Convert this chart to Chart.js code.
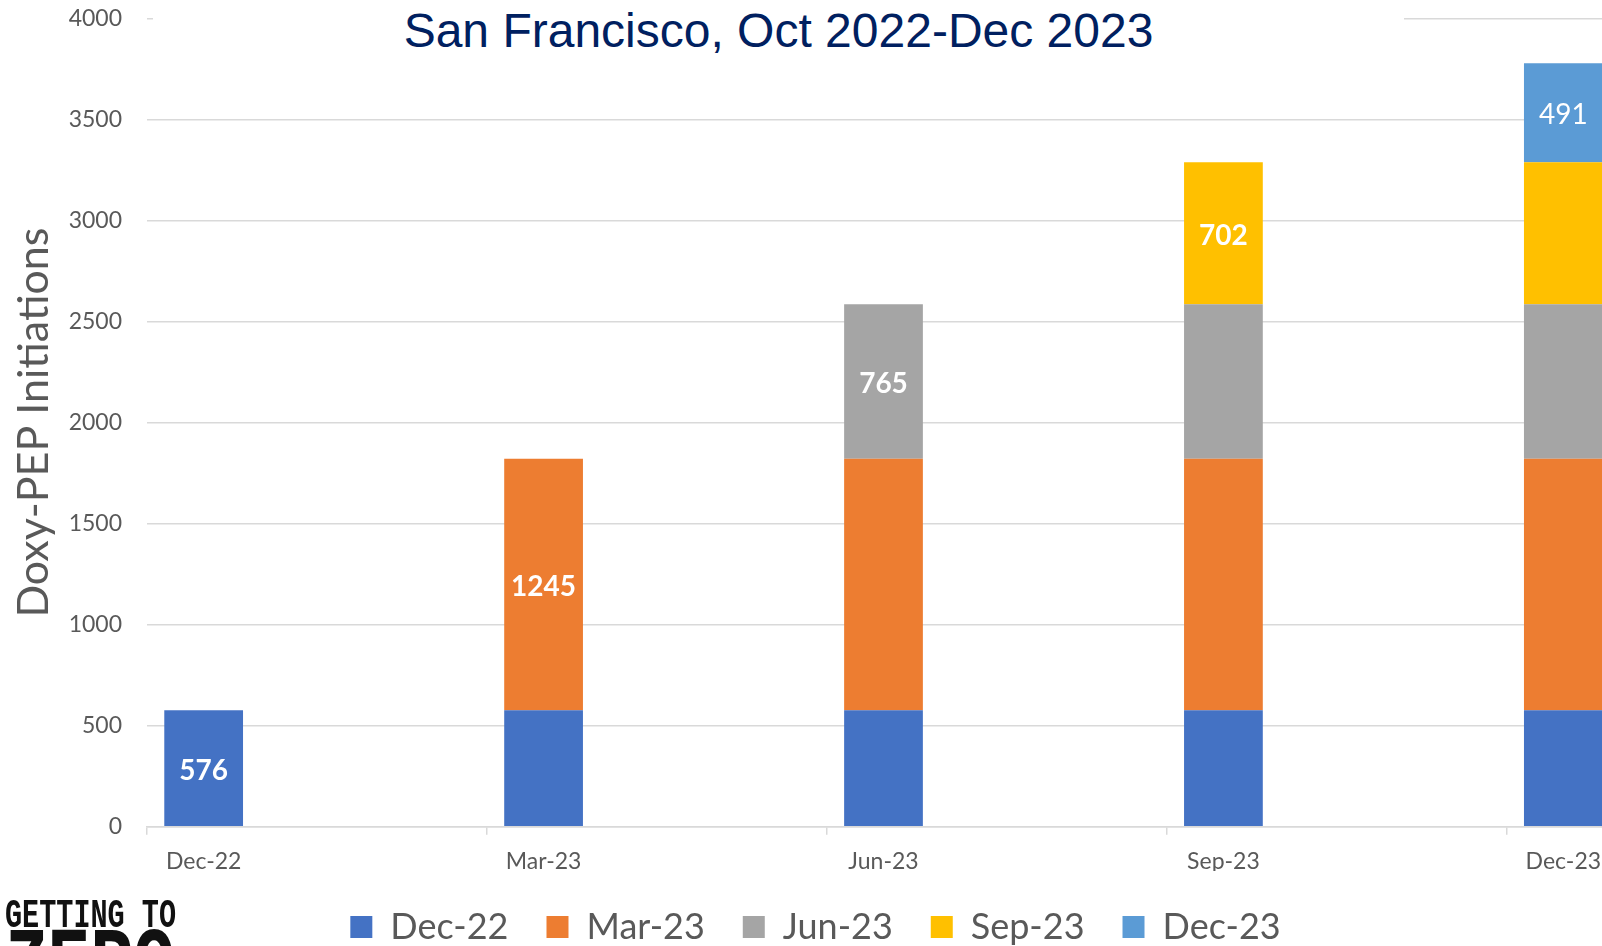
<!DOCTYPE html>
<html><head><meta charset="utf-8">
<script src="https://cdn.jsdelivr.net/npm/chart.js@4.4.1/dist/chart.umd.min.js"></script>
<style>
html,body{margin:0;padding:0;background:#fff;overflow:hidden;width:1602px;height:946px;position:relative;}
#wrap{position:absolute;left:0;top:0;width:1631px;height:955px;}
#title{position:absolute;left:153px;top:0;width:1251px;height:62px;background:#fff;text-align:center;font-family:"Liberation Sans",Arial,sans-serif;font-size:48px;line-height:48px;color:#002060;padding-top:7px;box-sizing:border-box;white-space:nowrap;}
.logo{position:absolute;left:5px;font-family:"Liberation Mono",monospace;font-weight:bold;color:#111;line-height:1;transform-origin:0 0;white-space:nowrap;}
#logo1{top:898px;font-size:28.5px;transform:scaleY(1.4);}
#logo2{top:920px;font-size:71px;transform:scaleY(1.4);}
</style></head><body>
<div id="wrap"><canvas id="c" width="1631" height="955"></canvas></div>
<div id="title">San Francisco, Oct 2022-Dec 2023</div>
<div class="logo" id="logo1">GETTING TO</div>
<div class="logo" id="logo2">ZERO</div>
<script>
// Monthly date axis (Excel-style), quarterly cohorts
const months = ['Dec-22','Jan-23','Feb-23','Mar-23','Apr-23','May-23','Jun-23','Jul-23','Aug-23','Sep-23','Oct-23','Nov-23','Dec-23'];
const quarters = ['Dec-22','Mar-23','Jun-23','Sep-23','Dec-23'];
const newInitiations = [576, 1245, 765, 702, 491];
const seriesColors = ['#4472C4','#ED7D31','#A5A5A5','#FFC000','#5B9BD5'];
const yTickMin = 0, yTickMax = 4000, yTickStep = 500;

const datasets = quarters.map((name, k) => ({
  label: name,
  data: months.map(m => {
    const q = quarters.indexOf(m);
    return (q >= k) ? newInitiations[k] : null;
  }),
  backgroundColor: seriesColors[k],
  borderWidth: 0,
  labelAt: months.indexOf(quarters[k]),
  labelWeight: k === 4 ? 'normal' : 'bold',
  categoryPercentage: 1.0,
  barPercentage: 0.695
}));

const segmentLabels = {
  id: 'segmentLabels',
  afterDatasetsDraw(chart) {
    const ctx = chart.ctx;
    chart.data.datasets.forEach((ds, i) => {
      const meta = chart.getDatasetMeta(i);
      const el = meta.data[ds.labelAt];
      if (!el) return;
      const v = ds.data[ds.labelAt];
      ctx.save();
      ctx.fillStyle = '#ffffff';
      ctx.font = ds.labelWeight + ' 28px Lato';
      ctx.textAlign = 'center';
      ctx.textBaseline = 'middle';
      ctx.fillText(String(v), el.x, (el.y + el.base) / 2 + 2.5);
      ctx.restore();
    });
  }
};

const grey = '#595959';
const gridCol = '#d9d9d9';

new Chart(document.getElementById('c'), {
  type: 'bar',
  data: { labels: months, datasets },
  plugins: [segmentLabels],
  options: {
    responsive: false,
    animation: false,
    devicePixelRatio: 1,
    layout: { padding: { top: 18.5, left: 0, right: 0, bottom: 0 } },
    plugins: {
      title: { display: false },
      tooltip: { enabled: false },
      legend: {
        display: true,
        position: 'bottom',
        labels: {
          boxWidth: 22, boxHeight: 22, padding: 38,
          color: grey,
          font: { family: 'Lato', size: 36 }
        }
      }
    },
    scales: {
      x: {
        stacked: true,
        offset: true,
        afterFit(s) { s.height = 44.3; },
        grid: {
          offset: true,
          drawOnChartArea: false,
          drawTicks: true,
          tickLength: 8,
          lineWidth: 1.5,
          color: (c) => (c.index % 3 === 0) ? gridCol : 'rgba(0,0,0,0)'
        },
        border: { display: true, color: gridCol, width: 1.5 },
        ticks: {
          autoSkip: false,
          maxRotation: 0,
          padding: 13,
          color: grey,
          font: { family: 'Lato', size: 23 },
          callback: function(value) {
            const lab = this.getLabelForValue(value);
            return quarters.includes(lab) ? lab : '';
          }
        }
      },
      y: {
        stacked: true,
        min: yTickMin, max: yTickMax,
        afterFit(s) { s.width = 147; s.paddingTop = 0; s.paddingBottom = 0; },
        ticks: {
          stepSize: yTickStep,
          padding: 25,
          color: grey,
          font: { family: 'Lato', size: 23 },
          callback: (v) => String(v)
        },
        grid: { color: gridCol, lineWidth: 1.5, drawTicks: false },
        border: { display: false },
        title: {
          display: true,
          text: 'Doxy-PEP Initiations',
          color: grey,
          font: { family: 'Lato', size: 43, weight: 'normal' },
          padding: { top: 8, bottom: 0 }
        }
      },
      yR: {
        position: 'right',
        display: true,
        afterFit(s) { s.width = 11; s.paddingTop = 0; s.paddingBottom = 0; },
        grid: { display: false, drawTicks: false },
        border: { display: false },
        ticks: { display: false }
      }
    }
  }
});
</script>
</body></html>
